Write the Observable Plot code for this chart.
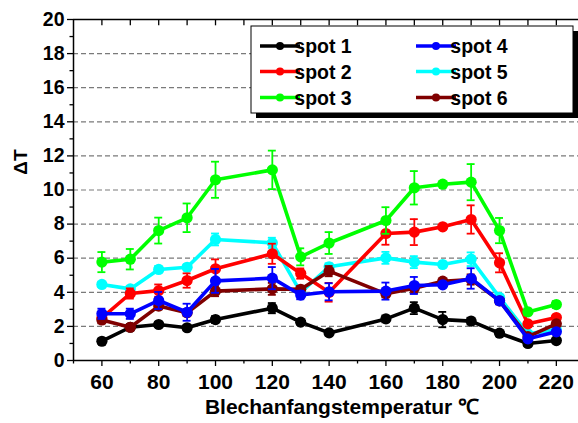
<!DOCTYPE html>
<html><head><meta charset="utf-8">
<script src="https://cdn.jsdelivr.net/npm/d3@7"></script>
<script src="https://cdn.jsdelivr.net/npm/@observablehq/plot@0.6"></script>
<style>body{margin:0;background:#fff} svg{display:block}</style>
</head><body><div id="chart"></div>
<script>
const temps = [60, 70, 80, 90, 100, 120, 130, 140, 160, 170, 180, 190, 200, 210, 220];
const spotNames = ["spot 1", "spot 2", "spot 3", "spot 4", "spot 5", "spot 6"];
const spotColors = ["#000000", "#ff0000", "#00ff00", "#0000ff", "#00ffff", "#800000"];

const spot1 = [1.13, 1.95, 2.11, 1.92, 2.40, 3.07, 2.25, 1.62, 2.44, 3.07, 2.40, 2.31, 1.60, 1.00, 1.17];
const err1  = [0.15, 0.15, 0.15, 0.15, 0.20, 0.30, 0.15, 0.15, 0.20, 0.35, 0.45, 0.20, 0.15, 0.15, 0.15];
const spot2 = [2.50, 3.93, 4.10, 4.69, 5.38, 6.26, 5.10, 4.00, 7.45, 7.53, 7.84, 8.27, 5.73, 2.15, 2.52];
const err2  = [0.20, 0.30, 0.36, 0.42, 0.55, 0.59, 0.30, 0.55, 0.66, 0.76, 0, 0.83, 0.56, 0.10, 0.10];
const spot3 = [5.77, 5.94, 7.62, 8.37, 10.60, 11.18, 6.08, 6.89, 8.21, 10.13, 10.34, 10.46, 7.62, 2.85, 3.28];
const err3  = [0.59, 0.60, 0.76, 0.84, 1.06, 1.13, 0.50, 0.64, 0.78, 0.98, 0, 1.06, 0.74, 0.20, 0.20];
const spot4 = [2.74, 2.74, 3.52, 2.83, 4.67, 4.83, 3.84, 4.03, 4.07, 4.40, 4.44, 4.81, 3.50, 1.27, 1.68];
const err4  = [0.30, 0.30, 0.50, 0.50, 0.70, 0.65, 0.25, 0.50, 0.50, 0.50, 0, 0.60, 0.20, 0.10, 0.10];
const spot5 = [4.46, 4.20, 5.34, 5.47, 7.10, 6.90, 4.00, 5.50, 6.02, 5.77, 5.63, 5.94, 3.70, 1.56, 1.80];
const err5  = [0.15, 0.15, 0.20, 0.15, 0.35, 0.30, 0.20, 0.20, 0.35, 0.35, 0, 0.40, 0.20, 0.10, 0.10];
const spot6 = [2.38, 1.95, 3.19, 2.80, 4.07, 4.20, 4.18, 5.24, 3.91, 4.24, 4.65, 4.75, 3.50, 1.40, 2.15];
const err6  = [0.20, 0.15, 0.20, 0.20, 0.30, 0.35, 0.20, 0.30, 0.20, 0.30, 0, 0.30, 0.20, 0.10, 0.10];

const xTicks = [60, 80, 100, 120, 140, 160, 180, 200, 220];
const xMinorTicks = [50, 70, 90, 110, 130, 150, 170, 190, 210];
const xTopTicks = [60, 70, 80, 90, 100, 110, 120, 130, 140, 150, 160, 170, 180, 190, 200, 210, 220];
const yTicks = [0, 2, 4, 6, 8, 10, 12, 14, 16, 18, 20];
const yMinorTicks = [1, 3, 5, 7, 9, 11, 13, 15, 17, 19];
const yGrid = [2, 4, 6, 8, 10, 12, 14, 16, 18];

const series = [spot1, spot2, spot3, spot4, spot5, spot6];
const errors = [err1, err2, err3, err4, err5, err6];
const drawOrder = [0, 4, 1, 2, 5, 3];

const rows = [];
series.forEach((vals, s) => vals.forEach((v, i) => rows.push({s, spot: spotNames[s], x: temps[i], y: v, e: errors[s][i]})));

const FONT = "'Liberation Sans', Arial, sans-serif";
const capHalf = 1.4;

const marks = [
  Plot.ruleY(yGrid, {stroke: "#7a7a7a", strokeWidth: 1.2, strokeDasharray: "5,3"})
];
for (const s of drawOrder) {
  const c = spotColors[s];
  const d = rows.filter(r => r.s === s);
  const de = d.filter(r => r.e > 0);
  marks.push(
    Plot.ruleX(de, {x: "x", y1: r => r.y - r.e, y2: r => r.y + r.e, stroke: c, strokeWidth: 1.8}),
    Plot.ruleY(de, {y: r => r.y + r.e, x1: r => r.x - capHalf, x2: r => r.x + capHalf, stroke: c, strokeWidth: 1.8}),
    Plot.ruleY(de, {y: r => r.y - r.e, x1: r => r.x - capHalf, x2: r => r.x + capHalf, stroke: c, strokeWidth: 1.8}),
    Plot.line(d, {x: "x", y: "y", stroke: c, strokeWidth: 3.6}),
    Plot.dot(d, {x: "x", y: "y", r: 5.6, fill: c, stroke: "none"})
  );
}
marks.push(
  Plot.ruleX([50], {stroke: "#000", strokeWidth: 1.5}),
  Plot.ruleY([0], {stroke: "#000", strokeWidth: 1.5}),
  Plot.ruleY([20], {stroke: "#000", strokeWidth: 1.5}),
  Plot.ruleX(xTopTicks, {y1: 20, y2: 19.63, stroke: "#000", strokeWidth: 1.3}),
  Plot.axisY({ticks: yTicks, tickSize: 6, tickPadding: 3, tickFormat: d => String(d), fontSize: 19.5, fontWeight: "bold", label: null, strokeWidth: 1.3}),
  Plot.axisY({ticks: yMinorTicks, tickSize: 3.5, tickFormat: () => "", label: null, strokeWidth: 1.3}),
  Plot.axisX({ticks: xTicks, tickSize: 6, tickPadding: 8, tickFormat: d => String(d), fontSize: 21, fontWeight: "bold", label: null, strokeWidth: 1.3}),
  Plot.axisX({ticks: xMinorTicks, tickSize: 3.5, tickFormat: () => "", label: null, strokeWidth: 1.3})
);

const chart = Plot.plot({
  width: 578,
  height: 423,
  marginLeft: 73,
  marginRight: 0,
  marginTop: 19,
  marginBottom: 63,
  x: {domain: [50, 227.8]},
  y: {domain: [0, 20]},
  style: {fontFamily: FONT, fontWeight: "bold", fontSize: "19px", color: "#000", background: "#fff", overflow: "visible"},
  marks
});
document.getElementById("chart").appendChild(chart);

const svg = d3.select(chart);
svg.append("text")
  .attr("transform", "translate(27,162) rotate(-90)")
  .attr("text-anchor", "middle")
  .attr("font-family", FONT).attr("font-weight", "bold").attr("font-size", 19)
  .text("ΔT");
svg.append("text")
  .attr("x", 342).attr("y", 414)
  .attr("text-anchor", "middle")
  .attr("font-family", FONT).attr("font-weight", "bold").attr("font-size", 21)
  .text("Blechanfangstemperatur ℃");

const lg = svg.append("g");
lg.append("rect").attr("x", 256).attr("y", 31).attr("width", 322).attr("height", 87).attr("fill", "#000");
lg.append("rect").attr("x", 251).attr("y", 26).attr("width", 322).attr("height", 87).attr("fill", "#fff").attr("stroke", "#000").attr("stroke-width", 1);
const rowY = [46, 71.5, 97.5];
spotNames.forEach((name, s) => {
  const col = Math.floor(s / 3), row = s % 3;
  const lx = col === 0 ? 260 : 416;
  const tx = col === 0 ? 323 : 479;
  const y = rowY[row];
  lg.append("line").attr("x1", lx).attr("x2", lx + 40).attr("y1", y).attr("y2", y)
    .attr("stroke", spotColors[s]).attr("stroke-width", 3.5);
  lg.append("circle").attr("cx", lx + 20).attr("cy", y).attr("r", 4).attr("fill", spotColors[s]);
  lg.append("text").attr("x", tx).attr("y", y + 7)
    .attr("font-family", FONT).attr("font-weight", "bold").attr("font-size", 19.5)
    .text(name);
});
</script>
</body></html>
